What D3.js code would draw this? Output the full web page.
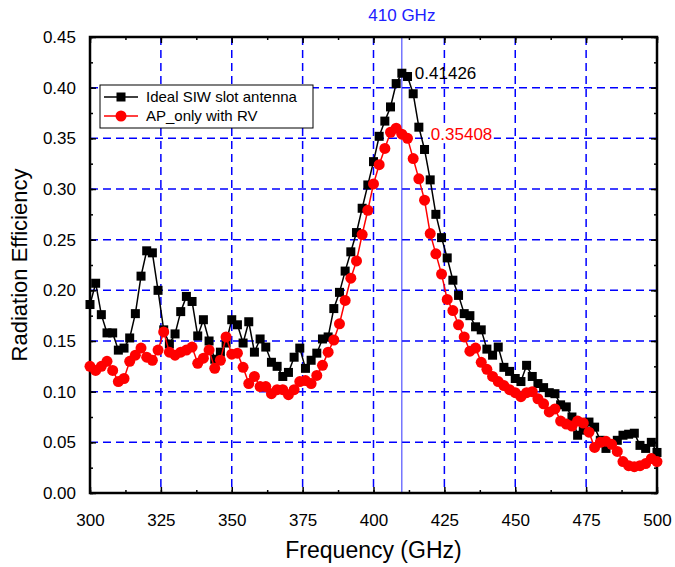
<!DOCTYPE html>
<html>
<head>
<meta charset="utf-8">
<script src="https://cdn.jsdelivr.net/npm/d3@7"></script>
<style>
  body { margin: 0; background: #fff; }
  svg { font-family: "Liberation Sans", Arial, sans-serif; }
</style>
</head>
<body>
<div id="chart"></div>
<script>
// frequency grid, 2 GHz steps
const freqs = d3.range(300, 501, 2);

const idealSIW = [
    0.186, 0.207, 0.176, 0.158, 0.158, 0.141, 0.143, 0.153, 0.177, 0.214,
    0.239, 0.237, 0.200, 0.161, 0.147, 0.157, 0.179, 0.194, 0.189, 0.155,
    0.171, 0.150, 0.132, 0.139, 0.148, 0.171, 0.166, 0.148, 0.169, 0.139,
    0.152, 0.144, 0.129, 0.125, 0.115, 0.119, 0.134, 0.143, 0.123, 0.131,
    0.138, 0.152, 0.154, 0.182, 0.198, 0.219, 0.238, 0.257, 0.281, 0.304,
    0.327, 0.352, 0.367, 0.381, 0.404, 0.41426, 0.411, 0.394, 0.361, 0.339,
    0.309, 0.275, 0.252, 0.232, 0.210, 0.195, 0.177, 0.175, 0.164, 0.161,
    0.142, 0.136, 0.144, 0.124, 0.120, 0.113, 0.110, 0.126, 0.115, 0.108,
    0.104, 0.099, 0.098, 0.087, 0.085, 0.075, 0.057, 0.062, 0.070, 0.065,
    0.052, 0.044, 0.048, 0.052, 0.057, 0.058, 0.059, 0.047, 0.044, 0.050,
    0.040
];

const apOnlyRV = [
    0.125, 0.121, 0.125, 0.130, 0.121, 0.110, 0.113, 0.130, 0.136, 0.143,
    0.134, 0.131, 0.141, 0.159, 0.139, 0.136, 0.139, 0.141, 0.144, 0.128,
    0.133, 0.141, 0.123, 0.131, 0.154, 0.137, 0.138, 0.124, 0.108, 0.115,
    0.105, 0.105, 0.098, 0.102, 0.102, 0.097, 0.102, 0.110, 0.111, 0.108,
    0.116, 0.126, 0.139, 0.151, 0.167, 0.190, 0.212, 0.229, 0.255, 0.279,
    0.305, 0.324, 0.340, 0.356, 0.360, 0.35408, 0.350, 0.330, 0.310, 0.289,
    0.256, 0.236, 0.216, 0.191, 0.180, 0.166, 0.154, 0.140, 0.143, 0.129,
    0.122, 0.115, 0.110, 0.106, 0.102, 0.099, 0.095, 0.099, 0.100, 0.093,
    0.088, 0.080, 0.083, 0.071, 0.068, 0.066, 0.071, 0.069, 0.060, 0.045,
    0.050, 0.051, 0.048, 0.041, 0.031, 0.027, 0.026, 0.027, 0.029, 0.034,
    0.031
];

const xTicks = [300, 325, 350, 375, 400, 425, 450, 475, 500];
const yTicks = [0, 0.05, 0.1, 0.15, 0.2, 0.25, 0.3, 0.35, 0.4, 0.45];
const markFreq = 410;

const width = 675, height = 567;
const margin = {top: 37, right: 18, bottom: 74, left: 90};
const innerW = width - margin.left - margin.right;
const innerH = height - margin.top - margin.bottom;
const font = '"Liberation Sans", Arial, sans-serif';

const svg = d3.select('#chart')
    .append('svg')
        .attr('width', width)
        .attr('height', height);

const x = d3.scaleLinear().domain([300, 500]).range([margin.left, margin.left + innerW]);
const y = d3.scaleLinear().domain([0, 0.45]).range([margin.top + innerH, margin.top]);

// grid
const grid = svg.append('g').attr('class', 'grid');
grid.selectAll('line.gx')
    .data(xTicks.slice(1, -1))
    .join('line')
        .attr('class', 'gx')
        .attr('x1', d => x(d)).attr('x2', d => x(d))
        .attr('y1', y(0.45)).attr('y2', y(0))
        .attr('stroke', '#0000ff')
        .attr('stroke-width', 1.5)
        .attr('stroke-dasharray', '8,5');
grid.selectAll('line.gy')
    .data(yTicks.slice(1, -1))
    .join('line')
        .attr('class', 'gy')
        .attr('x1', x(300)).attr('x2', x(500))
        .attr('y1', d => y(d)).attr('y2', d => y(d))
        .attr('stroke', '#0000ff')
        .attr('stroke-width', 1.5)
        .attr('stroke-dasharray', '8,5');

// 410 GHz marker line
svg.append('line')
    .attr('x1', x(markFreq)).attr('x2', x(markFreq))
    .attr('y1', y(0.45)).attr('y2', y(0))
    .attr('stroke', '#3030ff')
    .attr('stroke-width', 1);
svg.append('text')
    .attr('x', x(markFreq))
    .attr('y', 21)
    .attr('text-anchor', 'middle')
    .attr('font-size', 17)
    .attr('fill', '#2020ff')
    .text('410 GHz');

// axes with inward ticks on all sides
const minorX = d3.range(300, 501, 12.5);
const minorY = d3.range(0, 0.451, 0.025);

function tickSide(axisGen, translate) {
    return svg.append('g')
        .attr('transform', translate)
        .call(axisGen)
        .call(g => g.select('.domain').remove());
}

const bottomAxis = tickSide(
    d3.axisBottom(x).tickValues(xTicks).tickSize(-6).tickPadding(21).tickFormat(d3.format('d')),
    `translate(0,${y(0)})`);
tickSide(d3.axisBottom(x).tickValues(minorX).tickSize(-3).tickFormat(''), `translate(0,${y(0)})`);
tickSide(d3.axisTop(x).tickValues(xTicks).tickSize(-6).tickFormat(''), `translate(0,${y(0.45)})`);
tickSide(d3.axisTop(x).tickValues(minorX).tickSize(-3).tickFormat(''), `translate(0,${y(0.45)})`);

const leftAxis = tickSide(
    d3.axisLeft(y).tickValues(yTicks).tickSize(-6).tickPadding(14).tickFormat(d3.format('.2f')),
    `translate(${x(300)},0)`);
tickSide(d3.axisLeft(y).tickValues(minorY).tickSize(-3).tickFormat(''), `translate(${x(300)},0)`);
tickSide(d3.axisRight(y).tickValues(yTicks).tickSize(-6).tickFormat(''), `translate(${x(500)},0)`);
tickSide(d3.axisRight(y).tickValues(minorY).tickSize(-3).tickFormat(''), `translate(${x(500)},0)`);

svg.selectAll('.tick line').attr('stroke', '#000').attr('stroke-width', 1.5);
bottomAxis.selectAll('text').attr('font-size', 17).attr('fill', '#000').attr('font-family', font);
leftAxis.selectAll('text').attr('font-size', 17).attr('fill', '#000').attr('font-family', font);

// frame
svg.append('rect')
    .attr('x', x(300)).attr('y', y(0.45))
    .attr('width', innerW).attr('height', innerH)
    .attr('fill', 'none')
    .attr('stroke', '#000')
    .attr('stroke-width', 2.5);

// axis titles
svg.append('text')
    .attr('x', x(400))
    .attr('y', 558)
    .attr('text-anchor', 'middle')
    .attr('font-size', 23)
    .text('Frequency (GHz)');
svg.append('text')
    .attr('transform', `translate(27,${y(0.225)}) rotate(-90)`)
    .attr('text-anchor', 'middle')
    .attr('font-size', 22)
    .text('Radiation Efficiency');

// series
const series = [
    {name: 'Ideal SIW slot antenna', values: idealSIW, color: '#000', shape: 'square'},
    {name: 'AP_only with RV', values: apOnlyRV, color: '#ff0000', shape: 'circle'}
];

const line = d3.line()
    .x(d => x(d[0]))
    .y(d => y(d[1]));

function drawMarkers(g, pts, s, px, py) {
    if (s.shape === 'square') {
        g.selectAll('rect.mk')
            .data(pts)
            .join('rect')
                .attr('class', 'mk')
                .attr('x', d => px(d) - 4.5)
                .attr('y', d => py(d) - 4.5)
                .attr('width', 9).attr('height', 9)
                .attr('fill', s.color);
    } else {
        g.selectAll('circle.mk')
            .data(pts)
            .join('circle')
                .attr('class', 'mk')
                .attr('cx', px)
                .attr('cy', py)
                .attr('r', 5.5)
                .attr('fill', s.color);
    }
}

const plot = svg.append('g');
series.forEach(s => {
    const pts = freqs.map((f, i) => [f, s.values[i]]);
    const g = plot.append('g');
    g.append('path')
        .datum(pts)
        .attr('d', line)
        .attr('fill', 'none')
        .attr('stroke', s.color)
        .attr('stroke-width', 1.5);
    drawMarkers(g, pts, s, d => x(d[0]), d => y(d[1]));
});

// peak labels
const iPeak = freqs.indexOf(markFreq);
svg.append('text')
    .attr('x', x(markFreq) + 13)
    .attr('y', y(idealSIW[iPeak]) + 6)
    .attr('font-size', 17)
    .attr('fill', '#000')
    .text(idealSIW[iPeak].toFixed(5));

const redLabel = svg.append('g')
    .attr('transform', `translate(${x(markFreq) + 29},${y(apOnlyRV[iPeak]) + 6})`);
redLabel.append('rect')
    .attr('x', -1).attr('y', -13)
    .attr('width', 64).attr('height', 16)
    .attr('fill', '#fff');
redLabel.append('text')
    .attr('font-size', 17)
    .attr('fill', '#ff0000')
    .text(apOnlyRV[iPeak].toFixed(5));

// legend
const legend = svg.append('g').attr('transform', 'translate(100,85)');
legend.append('rect')
    .attr('width', 213).attr('height', 43)
    .attr('fill', '#fff')
    .attr('stroke', '#000')
    .attr('stroke-width', 1);
series.forEach((s, i) => {
    const row = legend.append('g').attr('transform', `translate(0,${12 + i * 19})`);
    row.append('line')
        .attr('x1', 4).attr('x2', 38)
        .attr('stroke', s.color)
        .attr('stroke-width', 1.5);
    drawMarkers(row, [0], s, () => 21, () => 0);
    row.append('text')
        .attr('x', 46).attr('y', 5)
        .attr('font-size', 15)
        .text(s.name);
});
</script>
</body>
</html>
